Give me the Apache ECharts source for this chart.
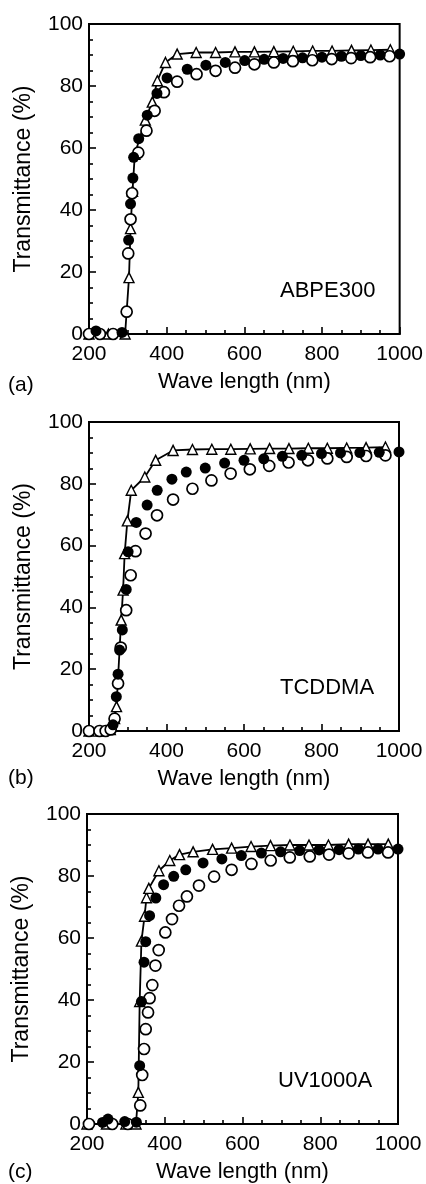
<!DOCTYPE html>
<html>
<head>
<meta charset="utf-8">
<script src="https://cdn.jsdelivr.net/npm/echarts@6/dist/echarts.min.js"></script>
<style>
html,body{margin:0;padding:0;background:#fff;}
#c{width:426px;height:1184px;}
</style>
</head>
<body>
<div id="c"></div>
<script>
// ---- data: [wavelength (nm), transmittance (%)] ----
const panelNames = ['ABPE300', 'TCDDMA', 'UV1000A'];
const panelTags = ['(a)', '(b)', '(c)'];
const xTicks = [200, 400, 600, 800, 1000];
const yTicks = [0, 20, 40, 60, 80, 100];

const aTri = [[200,0],[250,0],[293,0],[303,18.2],[307,34],[312,46],[318,58],[345,69],[363,74.8],[376,81.7],[397,87.6],[427,90.3],[476,90.8],[526,90.8],[576,91],[626,91],[676,91.1],[726,91.2],[776,91.3],[826,91.3],[876,91.5],[926,91.6],[976,91.7]];
const aFilled = [[218,1],[285,0.5],[302,30.3],[307,42],[313,50.3],[315,57],[328,63],[350,70.6],[375,77.6],[401,82.6],[453,85.4],[501,86.7],[551,87.6],[601,88.2],[651,88.6],[700,88.9],[750,89.1],[800,89.3],[850,89.6],[900,89.8],[950,90.0],[1000,90.3]];
const aOpen = [[200,0],[228,0],[262,0],[297,7.2],[301,26],[307,37],[311,45.4],[327,58.5],[348,65.6],[369,72],[393,78],[427,81.4],[477,83.8],[526,84.9],[576,85.9],[626,87.0],[676,87.6],[725,88.0],[775,88.3],[825,88.7],[875,89.0],[924,89.3],[974,89.6]];

const bTri = [[200,0],[230,0],[255,0.5],[266,4],[271,7.9],[283,35.9],[288,45.6],[292,57.4],[299,68],[309,77.9],[344,82.2],[372,87.6],[417,90.8],[467,91.1],[517,91.2],[566,91.2],[616,91.3],[666,91.4],[716,91.4],[766,91.5],[815,91.5],[865,91.6],[915,91.7],[965,91.9]];
const bFilled = [[262,2],[270.5,11.1],[275,18.4],[279,26.2],[286,32.7],[296,45.8],[301,58],[322,67.5],[350,73.1],[376,77.9],[414,81.5],[451,83.8],[500,85.1],[550,86.7],[600,87.6],[651,88.1],[699,88.9],[749,89.2],[800,89.8],[849,90],[899,90.1],[949,90.2],[1000,90.3]];
const bOpen = [[200,0],[227,0],[243,0],[256,0.5],[266,4],[275,15.4],[282,27],[296,39.1],[307.5,50.4],[320,58.2],[346,63.9],[375.5,69.8],[417,74.9],[467,78.4],[516,81.1],[565.5,83.3],[615,84.7],[665,85.8],[715,86.9],[765,87.6],[815,88.2],[865,88.7],[915,89],[965,89.2]];

const cTri = [[200,0],[250,0],[300,0],[326,0],[332,10.2],[335.5,39.5],[340,59],[348,67],[353,73],[359,76],[385,81.7],[413,85],[438,86.9],[473,87.8],[523,88.6],[572,89],[622,89.5],[672,89.8],[722,90],[771,90],[821,90],[873,90.3],[923,90.3],[975,90.3]];
const cFilled = [[240,0.5],[254,1.6],[297,0.8],[327,0.6],[335.5,18.8],[340,39.5],[346.7,52.2],[351,58.8],[361,67.2],[377,72.9],[397,77.2],[423,79.9],[454,82],[498.5,84.2],[547,85.5],[597,86.6],[648.5,87.4],[698,87.8],[747,88.2],[797,88.4],[848.5,88.5],[898,88.7],[948.6,88.7],[1000,88.7]];
const cOpen = [[205,0],[265,0],[305,0],[337,6],[342,15.8],[346.7,24.2],[351,30.6],[357,36],[361,40.6],[368,44.8],[376,51.1],[384.4,56.1],[401.5,61.8],[418.7,66.1],[436.7,70.4],[457,73.4],[488,76.9],[527,79.8],[572,82],[623,83.9],[672.5,85],[721.6,86],[773,86.3],[822.6,86.9],[873,87.3],[922.6,87.6],[974.5,87.6]];

const triSets = [aTri, bTri, cTri];
const filledSets = [aFilled, bFilled, cFilled];
const openSets = [aOpen, bOpen, cOpen];

// ---- layout ----
const FONT = 'Liberation Sans, Arial, Helvetica, sans-serif';
const grids = [
  {left: 89, top: 24, width: 311, height: 310},
  {left: 89, top: 422, width: 310, height: 309},
  {left: 87, top: 814, width: 311, height: 311}
];
const nameLabelPos = [[280, 291], [280, 688], [278, 1081]];
const tagPos = [[8, 385], [8, 778], [8, 1172]];

const option = {
  animation: false,
  backgroundColor: '#fff',
  grid: grids.map(g => Object.assign({show: true, borderColor: '#000', borderWidth: 2, backgroundColor: 'transparent'}, g)),
  xAxis: grids.map((g, i) => ({
    type: 'value', gridIndex: i, min: xTicks[0], max: xTicks[xTicks.length - 1], interval: 200,
    name: 'Wave length (nm)', nameLocation: 'middle', nameGap: 37,
    nameTextStyle: {fontFamily: FONT, fontSize: 22, color: '#000'},
    axisLine: {show: true, lineStyle: {color: '#000', width: 2}},
    axisTick: {show: true, inside: true, length: 7, lineStyle: {color: '#000', width: 1.6}},
    minorTick: {show: true, splitNumber: 4, length: 4, lineStyle: {color: '#000', width: 1.6}},
    axisLabel: {fontFamily: FONT, fontSize: 21, color: '#000', margin: 10, formatter: v => String(v)},
    splitLine: {show: false}, minorSplitLine: {show: false}
  })),
  yAxis: grids.map((g, i) => ({
    type: 'value', gridIndex: i, min: yTicks[0], max: yTicks[yTicks.length - 1], interval: 20,
    name: 'Transmittance (%)', nameLocation: 'middle', nameGap: 54,
    nameTextStyle: {fontFamily: FONT, fontSize: 23, color: '#000'},
    axisLine: {show: true, lineStyle: {color: '#000', width: 2}},
    axisTick: {show: true, inside: true, length: 7, lineStyle: {color: '#000', width: 1.6}},
    minorTick: {show: true, splitNumber: 4, length: 4, lineStyle: {color: '#000', width: 1.6}},
    axisLabel: {fontFamily: FONT, fontSize: 21, color: '#000', margin: 6, formatter: v => String(v)},
    splitLine: {show: false}, minorSplitLine: {show: false}
  })),
  series: [],
  graphic: []
};

for (let i = 0; i < 3; i++) {
  option.series.push({
    type: 'line', xAxisIndex: i, yAxisIndex: i, data: triSets[i],
    symbol: 'triangle', symbolSize: 10, showAllSymbol: true,
    lineStyle: {color: '#000', width: 1.8},
    itemStyle: {color: '#fff', borderColor: '#000', borderWidth: 1.4},
    z: 2
  });
  option.series.push({
    type: 'scatter', xAxisIndex: i, yAxisIndex: i, data: openSets[i],
    symbol: 'circle', symbolSize: 11,
    itemStyle: {color: '#fff', borderColor: '#000', borderWidth: 1.7, opacity: 1},
    z: 3
  });
  option.series.push({
    type: 'scatter', xAxisIndex: i, yAxisIndex: i, data: filledSets[i],
    symbol: 'circle', symbolSize: 11,
    itemStyle: {color: '#000', opacity: 1},
    z: 4
  });
  option.graphic.push({
    type: 'text', x: nameLabelPos[i][0], y: nameLabelPos[i][1],
    style: {text: panelNames[i], fontFamily: FONT, fontSize: 22, fill: '#000', verticalAlign: 'middle', align: 'left'}
  });
  option.graphic.push({
    type: 'text', x: tagPos[i][0], y: tagPos[i][1],
    style: {text: panelTags[i], fontFamily: FONT, fontSize: 21, fill: '#000', verticalAlign: 'middle', align: 'left'}
  });
}

const chart = echarts.init(document.getElementById('c'), null, {renderer: 'canvas'});
chart.setOption(option);
</script>
</body>
</html>
